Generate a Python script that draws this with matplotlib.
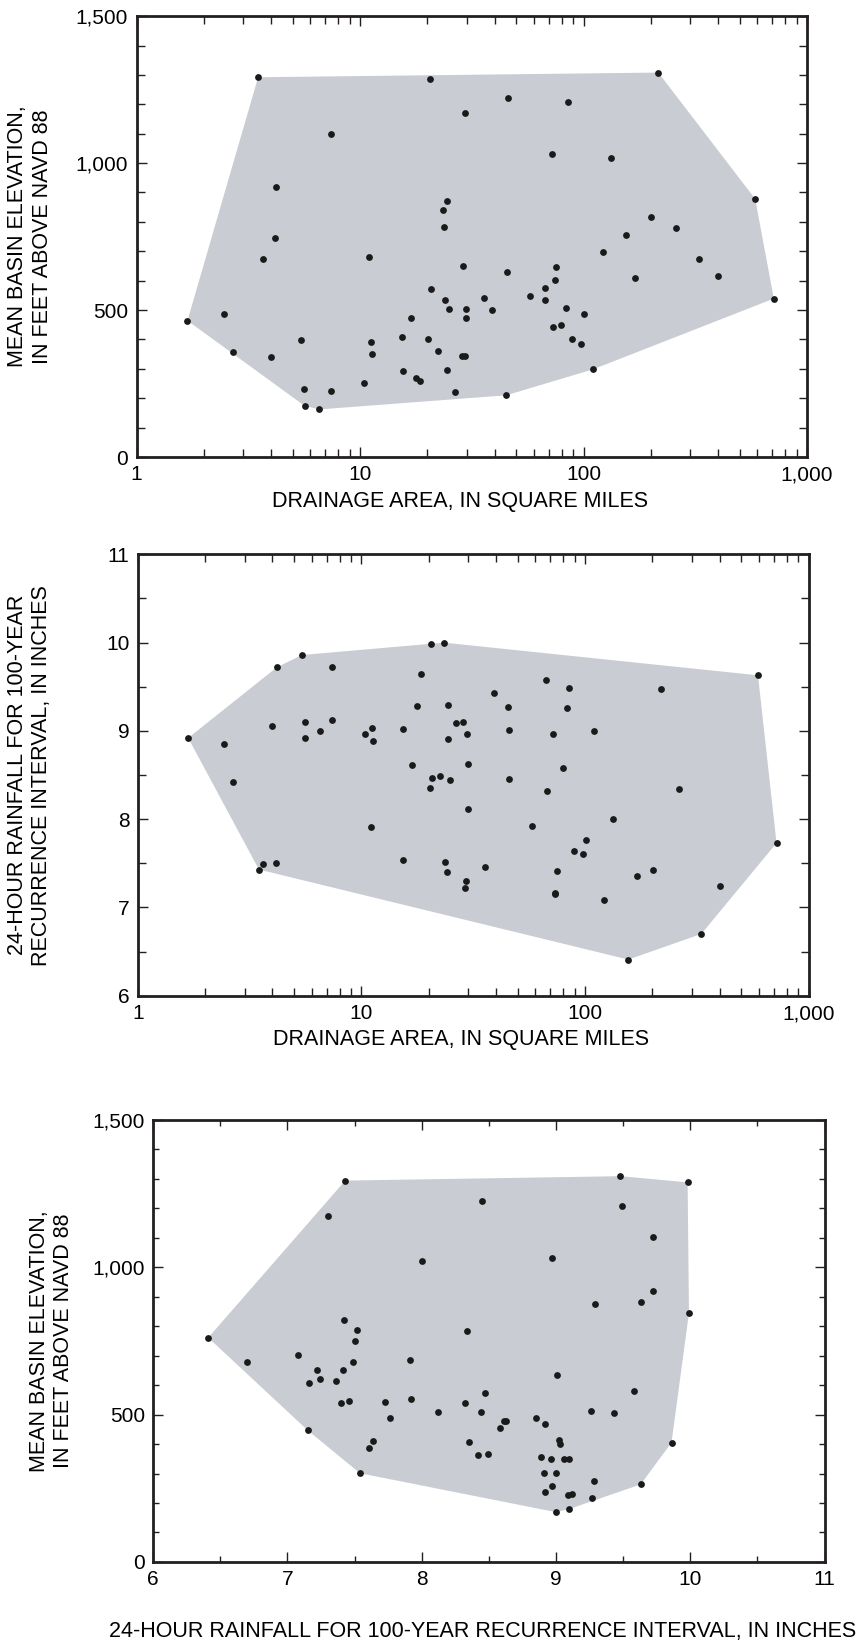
import numpy as np
import matplotlib
matplotlib.use('Agg')
import matplotlib.pyplot as plt
from matplotlib.patches import Polygon
from matplotlib.ticker import FixedLocator, NullFormatter

plt.rcParams['font.family'] = ['Liberation Sans', 'DejaVu Sans']

# panel 1: drainage area vs mean basin elevation
area1 = [1.69, 2.45, 2.69, 3.50, 3.67, 4.01, 4.18, 4.21, 5.43, 5.63, 5.65, 6.58, 7.39, 7.39,
         10.45, 10.98, 11.22, 11.3, 15.4, 15.6, 16.9, 17.8, 18.6, 20.2, 20.5, 20.7, 22.4, 23.4,
         23.7, 24.1, 24.4, 24.5, 24.9, 26.5, 28.5, 29.0, 29.4, 29.5, 29.9, 29.9, 35.7, 39.1,
         45.1, 45.6, 46.0, 57.8, 67.0, 67.4, 71.9, 73.3, 74.6, 75.0, 79.3, 83.7, 85.0, 89.0,
         97.3, 100.5, 110, 122, 132, 155, 170, 200, 216, 259, 328, 400, 586, 710]
elev1 = [464, 485, 357, 1292, 674, 342, 744, 917, 399, 230, 174, 162, 1098, 224,
         251, 682, 393, 350, 408, 294, 473, 270, 257, 401, 1285, 570, 360, 841,
         783, 535, 872, 295, 505, 220, 344, 649, 1170, 343, 505, 473, 542, 501,
         210, 631, 1223, 549, 576, 534, 1031, 442, 603, 648, 450, 508, 1207, 403,
         383, 486, 298, 698, 1018, 757, 608, 816, 1308, 780, 675, 617, 878, 539]

# panel 2: drainage area vs 24-hour 100-year rainfall
area2 = [1.68, 2.43, 2.66, 3.48, 3.64, 4.0, 4.14, 4.18, 5.42, 5.59, 5.59, 6.54, 7.35, 7.35,
         10.4, 11.0, 11.1, 11.3, 15.3, 15.4, 16.9, 17.7, 18.5, 20.2, 20.5, 20.7, 22.4, 23.4,
         23.7, 24.1, 24.4, 24.4, 24.9, 26.5, 28.5, 29.0, 29.4, 29.5, 29.9, 29.9, 35.8, 39.1,
         45.1, 45.6, 45.8, 57.7, 66.9, 67.4, 72.1, 73.1, 73.7, 74.8, 79.3, 83.3, 84.9, 89.0,
         97.8, 100.5, 110, 122, 133, 156, 171, 201, 218, 262, 331, 403, 593, 718]
rain2 = [8.92, 8.85, 8.42, 7.43, 7.49, 9.06, 7.50, 9.72, 9.86, 9.10, 8.92, 9.00, 9.72, 9.12,
         8.97, 7.91, 9.03, 8.89, 9.02, 7.54, 8.61, 9.28, 9.64, 8.35, 9.98, 8.47, 8.49, 10.0,
         7.52, 7.40, 9.29, 8.91, 8.44, 9.09, 9.10, 7.22, 7.30, 8.96, 8.63, 8.12, 7.46, 9.43,
         9.27, 9.01, 8.45, 7.92, 9.58, 8.32, 8.97, 7.15, 7.16, 7.41, 8.58, 9.26, 9.49, 7.64,
         7.61, 7.76, 9.00, 7.08, 8.00, 6.41, 7.36, 7.42, 9.48, 8.34, 6.70, 7.24, 9.63, 7.73]

# panel 3: 24-hour 100-year rainfall vs mean basin elevation
rain3 = [6.41, 6.70, 7.08, 7.15, 7.16, 7.22, 7.24, 7.30, 7.36, 7.40, 7.41, 7.42, 7.43, 7.46,
         7.49, 7.50, 7.52, 7.54, 7.61, 7.64, 7.73, 7.76, 7.91, 7.92, 8.00, 8.12, 8.32, 8.34,
         8.35, 8.42, 8.44, 8.45, 8.47, 8.49, 8.58, 8.61, 8.63, 8.85, 8.89, 8.91, 8.92, 8.92,
         8.96, 8.97, 8.97, 9.00, 9.00, 9.01, 9.02, 9.03, 9.06, 9.09, 9.10, 9.10, 9.12, 9.26,
         9.27, 9.28, 9.29, 9.43, 9.48, 9.49, 9.58, 9.63, 9.63, 9.72, 9.72, 9.86, 9.98, 9.99]
elev3 = [761, 680, 701, 447, 608, 653, 622, 1173, 613, 540, 653, 820, 1294, 546,
         680, 749, 787, 301, 388, 410, 544, 490, 686, 554, 1021, 510, 539, 784,
         408, 362, 510, 1224, 575, 366, 455, 478, 478, 490, 356, 302, 469, 237,
         349, 1033, 257, 169, 302, 635, 413, 399, 349, 226, 350, 180, 230, 513,
         216, 276, 875, 506, 1309, 1208, 580, 881, 263, 1101, 921, 405, 1288, 845]

log_ticks = [1, 10, 100, 1000]
log_labels = ['1', '10', '100', '1,000']
elev_ticks = [0, 500, 1000, 1500]
elev_labels = ['0', '500', '1,000', '1,500']
rain_ticks = [6, 7, 8, 9, 10, 11]

xlabel_area = 'DRAINAGE AREA, IN SQUARE MILES'
ylabel_elev = 'MEAN BASIN ELEVATION,\nIN FEET ABOVE NAVD 88'
label_rain = '24-HOUR RAINFALL FOR 100-YEAR RECURRENCE INTERVAL, IN INCHES'
ylabel_rain = '24-HOUR RAINFALL FOR 100-YEAR\nRECURRENCE INTERVAL, IN INCHES'

FILL = '#c9ccd2'
DOT = '#1a1a1a'
FS = 15.5
TFS = 15


def hull(px, py):
    pts = sorted(set(zip(px, py)))
    def cross(o, a, b):
        return (a[0]-o[0])*(b[1]-o[1]) - (a[1]-o[1])*(b[0]-o[0])
    lower, upper = [], []
    for p in pts:
        while len(lower) >= 2 and cross(lower[-2], lower[-1], p) <= 0:
            lower.pop()
        lower.append(p)
    for p in reversed(pts):
        while len(upper) >= 2 and cross(upper[-2], upper[-1], p) <= 0:
            upper.pop()
        upper.append(p)
    return lower[:-1] + upper[:-1]


def draw(ax, x, y, logx):
    x = np.asarray(x, float)
    y = np.asarray(y, float)
    hx = np.log10(x) if logx else x
    h = np.array(hull(hx, y))
    if logx:
        h[:, 0] = 10**h[:, 0]
    ax.add_patch(Polygon(h, closed=True, fc=FILL, ec='none', zorder=1))
    ax.scatter(x, y, s=24, c=DOT, lw=0, zorder=3)


def style(ax):
    for s in ax.spines.values():
        s.set_linewidth(2.0)
        s.set_color('#231f20')
    ax.tick_params(which='both', direction='in', top=True, right=True,
                   labelsize=TFS, color='#231f20')
    ax.tick_params(which='major', length=7, width=1.0, pad=6)
    ax.tick_params(which='minor', length=6, width=1.0)


fig = plt.figure(figsize=(8.63, 16.44), dpi=100)
ax1 = fig.add_axes([0.1582, 0.722, 0.777, 0.2682])
ax2 = fig.add_axes([0.1597, 0.3943, 0.7774, 0.2685])
ax3 = fig.add_axes([0.1775, 0.0499, 0.778, 0.2689])

# panel 1
draw(ax1, area1, elev1, True)
ax1.set_xscale('log')
ax1.set_xlim(1, 1000)
ax1.set_ylim(0, 1500)
ax1.set_xticks(log_ticks, log_labels)
ax1.xaxis.set_minor_locator(FixedLocator([m*d for d in (1, 10, 100) for m in range(2, 10)]))
ax1.xaxis.set_minor_formatter(NullFormatter())
ax1.set_yticks(elev_ticks, elev_labels)
ax1.yaxis.set_minor_locator(FixedLocator(np.arange(0, 1501, 100)))
ax1.set_xlabel(xlabel_area, fontsize=FS)
ax1.set_ylabel(ylabel_elev, fontsize=FS)
style(ax1)

# panel 2
draw(ax2, area2, rain2, True)
ax2.set_xscale('log')
ax2.set_xlim(1, 1000)
ax2.set_ylim(6, 11)
ax2.set_xticks(log_ticks, log_labels)
ax2.xaxis.set_minor_locator(FixedLocator([m*d for d in (1, 10, 100) for m in range(2, 10)]))
ax2.xaxis.set_minor_formatter(NullFormatter())
ax2.set_yticks(rain_ticks)
ax2.yaxis.set_minor_locator(FixedLocator(np.arange(6, 11.01, 0.5)))
ax2.set_xlabel(xlabel_area, fontsize=FS)
ax2.set_ylabel(ylabel_rain, fontsize=FS)
style(ax2)

# panel 3
draw(ax3, rain3, elev3, False)
ax3.set_xlim(6, 11)
ax3.set_ylim(0, 1500)
ax3.set_xticks(rain_ticks)
ax3.xaxis.set_minor_locator(FixedLocator(np.arange(6, 11.01, 0.5)))
ax3.set_yticks(elev_ticks, elev_labels)
ax3.yaxis.set_minor_locator(FixedLocator(np.arange(0, 1501, 100)))
ax3.set_xlabel(label_rain, fontsize=FS)
ax3.set_ylabel(ylabel_elev, fontsize=FS)
style(ax3)
ax3.tick_params(which='minor', length=4)

for ax, xl, yl in [(ax1, (0.4825, -0.10), (-0.159, 0.5)),
                   (ax2, (0.4825, -0.10), (-0.161, 0.5)),
                   (ax3, (0.4907, -0.158), (-0.152, 0.5))]:
    ax.xaxis.set_label_coords(*xl)
    ax.xaxis.label.set_va('center')
    ax.yaxis.set_label_coords(*yl)
    ax.yaxis.label.set_va('center')

fig.savefig('out.png', dpi=100)
